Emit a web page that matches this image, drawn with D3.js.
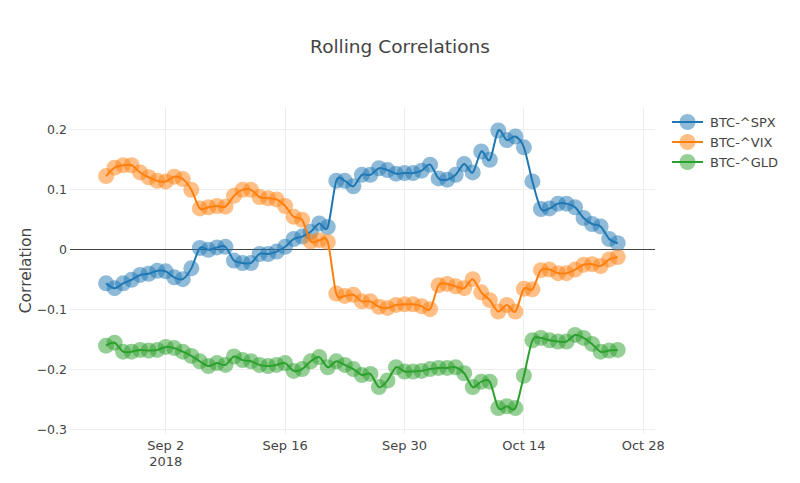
<!DOCTYPE html>
<html>
<head>
<meta charset="utf-8">
<script src="https://cdn.jsdelivr.net/npm/d3@7"></script>
<style>
  body { margin: 0; background: #fff; }
  text { font-family: "DejaVu Sans", Verdana, sans-serif; fill: #444; }
</style>
</head>
<body>
<div id="chart"></div>
<script>
var width = 800;
var height = 483;

// data, one value per day from Aug 26 2018
var startDate = new Date(2018, 7, 26);
var seriesNames = ["BTC-^SPX", "BTC-^VIX", "BTC-^GLD"];
var seriesColors = ["#1f77b4", "#ff7f0e", "#2ca02c"];

var spx = [-0.057, -0.065, -0.057, -0.051, -0.043, -0.041, -0.036, -0.037, -0.047, -0.050,
  -0.032, 0.002, -0.001, 0.003, 0.004, -0.019, -0.023, -0.023, -0.008, -0.008,
  -0.004, 0.004, 0.017, 0.021, 0.029, 0.043, 0.037, 0.114, 0.114, 0.105,
  0.124, 0.124, 0.135, 0.132, 0.126, 0.127, 0.127, 0.131, 0.141, 0.118,
  0.116, 0.124, 0.142, 0.128, 0.163, 0.149, 0.198, 0.182, 0.188, 0.170,
  0.113, 0.067, 0.068, 0.076, 0.076, 0.070, 0.052, 0.042, 0.038, 0.017, 0.010];

var vix = [0.122, 0.136, 0.140, 0.140, 0.128, 0.120, 0.114, 0.113, 0.121, 0.117,
  0.099, 0.068, 0.070, 0.072, 0.071, 0.089, 0.099, 0.099, 0.087, 0.085,
  0.083, 0.072, 0.054, 0.049, 0.013, 0.015, 0.012, -0.074, -0.078, -0.076,
  -0.087, -0.087, -0.096, -0.098, -0.093, -0.092, -0.092, -0.095, -0.100, -0.060,
  -0.058, -0.062, -0.065, -0.050, -0.072, -0.085, -0.104, -0.093, -0.104, -0.066,
  -0.067, -0.035, -0.034, -0.040, -0.040, -0.034, -0.026, -0.025, -0.028, -0.017, -0.013];

var gld = [-0.161, -0.156, -0.171, -0.171, -0.168, -0.169, -0.168, -0.163, -0.165, -0.171,
  -0.178, -0.187, -0.195, -0.190, -0.193, -0.179, -0.185, -0.187, -0.193, -0.195,
  -0.193, -0.190, -0.203, -0.200, -0.187, -0.180, -0.197, -0.187, -0.193, -0.200,
  -0.210, -0.208, -0.230, -0.219, -0.197, -0.204, -0.204, -0.203, -0.200, -0.198,
  -0.198, -0.197, -0.207, -0.230, -0.221, -0.221, -0.265, -0.262, -0.265, -0.211,
  -0.152, -0.148, -0.152, -0.154, -0.154, -0.143, -0.148, -0.158, -0.171, -0.169, -0.168];

var xTickDates = [new Date(2018, 8, 2), new Date(2018, 8, 16), new Date(2018, 8, 30),
  new Date(2018, 9, 14), new Date(2018, 9, 28)];
var xTickLabels = ["Sep 2", "Sep 16", "Sep 30", "Oct 14", "Oct 28"];
var yTicks = [-0.3, -0.2, -0.1, 0, 0.1, 0.2];
var yTickLabels = ["\u22120.3", "\u22120.2", "\u22120.1", "0", "0.1", "0.2"];

var allSeries = [spx, vix, gld];
var dates = d3.timeDay.range(startDate, d3.timeDay.offset(startDate, spx.length));

// plot area
var plot = { left: 70, right: 655, top: 107, bottom: 434 };

var xScale = d3.scaleTime()
  .domain([new Date(2018, 7, 21, 18, 30), new Date(2018, 9, 29, 9, 0)])
  .range([plot.left, plot.right]);

var yScale = d3.scaleLinear()
  .domain([-0.3083, 0.2372])
  .range([plot.bottom, plot.top]);

var svg = d3.select("#chart").append("svg")
  .attr("width", width)
  .attr("height", height)
  .style("background", "#fff");

// grid
var grid = svg.append("g").attr("shape-rendering", "crispEdges");
grid.selectAll("line.vx").data(xTickDates).enter().append("line")
  .attr("x1", d => xScale(d)).attr("x2", d => xScale(d))
  .attr("y1", plot.top).attr("y2", plot.bottom)
  .attr("stroke", "#eee").attr("stroke-width", 1);
grid.selectAll("line.hy").data(yTicks.filter(d => d != 0)).enter().append("line")
  .attr("x1", plot.left).attr("x2", plot.right)
  .attr("y1", d => yScale(d)).attr("y2", d => yScale(d))
  .attr("stroke", "#eee").attr("stroke-width", 1);

// zero line
svg.append("line")
  .attr("shape-rendering", "crispEdges")
  .attr("x1", plot.left).attr("x2", plot.right)
  .attr("y1", yScale(0)).attr("y2", yScale(0))
  .attr("stroke", "#444").attr("stroke-width", 1);

// y tick labels
svg.append("g").selectAll("text").data(yTicks).enter().append("text")
  .attr("x", plot.left - 3)
  .attr("y", d => yScale(d))
  .attr("dy", "0.36em")
  .attr("text-anchor", "end")
  .style("font-size", "12.5px")
  .text((d, i) => yTickLabels[i]);

// x tick labels
var xLabels = svg.append("g");
xLabels.selectAll("text").data(xTickDates).enter().append("text")
  .attr("x", d => xScale(d))
  .attr("y", 450)
  .attr("text-anchor", "middle")
  .style("font-size", "13px")
  .text((d, i) => xTickLabels[i]);
xLabels.append("text")
  .attr("x", xScale(xTickDates[0]))
  .attr("y", 466)
  .attr("text-anchor", "middle")
  .style("font-size", "13px")
  .text("2018");

// axis title
svg.append("text")
  .attr("transform", `translate(31, ${(plot.top + plot.bottom) / 2}) rotate(-90)`)
  .attr("text-anchor", "middle")
  .style("font-size", "15.5px")
  .text("Correlation");

// title
svg.append("text")
  .attr("x", width / 2)
  .attr("y", 53)
  .attr("text-anchor", "middle")
  .style("font-size", "18.5px")
  .text("Rolling Correlations");

// traces
var line = d3.line()
  .x((d, i) => xScale(dates[i]))
  .y(d => yScale(d))
  .curve(d3.curveCardinal.tension(0.1));

var traces = svg.append("g").selectAll("g").data(allSeries).enter().append("g");

traces.append("path")
  .attr("d", d => line(d))
  .attr("fill", "none")
  .attr("stroke", (d, i) => seriesColors[i])
  .attr("stroke-width", 2);

traces.each(function (series, k) {
  d3.select(this).selectAll("circle").data(series).enter().append("circle")
    .attr("cx", (d, i) => xScale(dates[i]))
    .attr("cy", d => yScale(d))
    .attr("r", 8)
    .attr("fill", seriesColors[k])
    .attr("fill-opacity", 0.5);
});

// legend
var legend = svg.append("g").attr("transform", "translate(672, 122)");
var legendItem = legend.selectAll("g").data(seriesNames).enter().append("g")
  .attr("transform", (d, i) => `translate(0, ${i * 20})`);
legendItem.append("line")
  .attr("x1", 0).attr("x2", 31)
  .attr("stroke", (d, i) => seriesColors[i])
  .attr("stroke-width", 2);
legendItem.append("circle")
  .attr("cx", 15.5).attr("r", 8)
  .attr("fill", (d, i) => seriesColors[i])
  .attr("fill-opacity", 0.5);
legendItem.append("text")
  .attr("x", 38)
  .attr("dy", "0.36em")
  .style("font-size", "13px")
  .text(d => d);
</script>
</body>
</html>
